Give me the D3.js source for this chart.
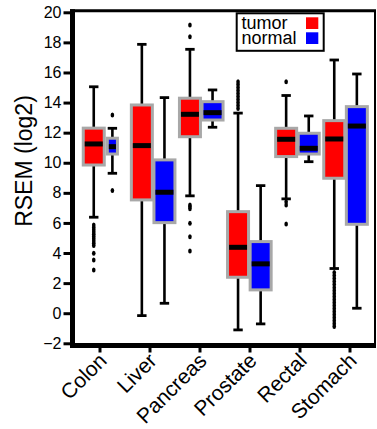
<!DOCTYPE html>
<html><head><meta charset="utf-8">
<script src="https://cdn.jsdelivr.net/npm/d3@7"></script>
<style>html,body{margin:0;padding:0;background:#fff;}svg{display:block;font-family:"Liberation Sans",Arial,sans-serif;}</style>
</head><body>
<svg id="c" width="377" height="429"></svg>
<script>
const categories = ["Colon","Liver","Pancreas","Prostate","Rectal","Stomach"];
const seriesNames = ["tumor","normal"];
const seriesColors = ["#ff0000","#0000ff"];
// [whisker low, q1, median, q3, whisker high]
const tumorStats = [
  [6.38, 9.85, 11.25, 12.3, 15.05],
  [-0.16, 7.53, 11.14, 13.84, 17.87],
  [7.8, 11.73, 13.22, 14.29, 17.54],
  [-1.11, 2.39, 4.38, 6.75, 13.3],
  [7.6, 10.41, 11.56, 12.29, 14.47],
  [2.97, 8.97, 11.58, 12.8, 16.83]
];
const normalStats = [
  [9.3, 10.58, 11.07, 11.63, 12.29],
  [0.66, 6.02, 8.04, 10.19, 14.33],
  [12.36, 12.84, 13.33, 14.06, 14.84],
  [-0.71, 1.55, 3.28, 4.76, 8.48],
  [10.07, 10.58, 10.96, 11.96, 13.11],
  [0.33, 5.91, 12.44, 13.73, 15.9]
];
const tumorOutliers = [
  [5.87,5.7,5.55,5.4,5.25,5.1,4.95,4.8,4.65,4.5,3.99,3.54,2.88],
  [],
  [19.16,18.38,7.2,7.08,6.95,5.98,5.09,4.14],
  [15.39,15.2,15.0,14.8,14.6,14.4,14.2,14.0,13.8,13.6],
  [15.39,7.4,7.2,5.93],
  [2.7,2.5,2.3,2.1,1.9,1.7,1.5,1.3,1.1,0.9,0.7,0.5,0.3,0.1,-0.1,-0.3,-0.5,-0.7,-0.89]
];
const normalOutliers = [
  [13.18, 8.15],
  [], [], [], [], []
];
// relative box widths (sample-size scaled)
const tumorWidth = [1,1,1,1,1,1];
const normalWidth = [0.48,1,1,1,1,1];
const yTicks = [-2,0,2,4,6,8,10,12,14,16,18,20];

const svg = d3.select("#c");
const L = 75, R = 375, T = 12.3, B = 343.3;
const x = d3.scaleBand().domain(categories).range([L, R]);          // tick positions
const xBox = d3.scaleBand().domain(categories).range([81, 369.6]);  // box pair positions
const y = d3.scaleLinear().domain([-2, 20]).range([B, T]);

const groups = [
  {stats: tumorStats, out: tumorOutliers, w: tumorWidth, color: seriesColors[0], off: -11.3},
  {stats: normalStats, out: normalOutliers, w: normalWidth, color: seriesColors[1], off: 11.3}
];
const boxW = 21;

groups.forEach(g => {
  categories.forEach((c, i) => {
    const s = g.stats[i];
    const w = boxW * g.w[i];
    const pc = xBox(c) + xBox.bandwidth()/2;
    let cx = pc + g.off;
    if (g.w[i] < 1) cx = pc + g.off - boxW/2 + w/2 + 1.5;
    const gg = svg.append("g");
    gg.append("line").attr("x1", cx).attr("x2", cx).attr("y1", y(s[0])).attr("y2", y(s[1]))
      .attr("stroke", "#000").attr("stroke-width", 2.6);
    gg.append("line").attr("x1", cx).attr("x2", cx).attr("y1", y(s[3])).attr("y2", y(s[4]))
      .attr("stroke", "#000").attr("stroke-width", 2.6);
    [s[0], s[4]].forEach(v => {
      gg.append("line").attr("x1", cx - 4.7).attr("x2", cx + 4.7).attr("y1", y(v)).attr("y2", y(v))
        .attr("stroke", "#000").attr("stroke-width", 2.8);
    });
    g.out[i].forEach(v => {
      gg.append("ellipse").attr("cx", cx).attr("cy", y(v)).attr("rx", 1.8).attr("ry", 2.5).attr("fill", "#000");
    });
    gg.append("rect").attr("x", cx - w/2).attr("y", y(s[3])).attr("width", w).attr("height", y(s[1]) - y(s[3]))
      .attr("fill", g.color).attr("stroke", "#a8a8a8").attr("stroke-width", 3);
    gg.append("line").attr("x1", cx - w/2 + 1.5).attr("x2", cx + w/2 - 1.5).attr("y1", y(s[2])).attr("y2", y(s[2]))
      .attr("stroke", "#000").attr("stroke-width", 5);
  });
});

// frame
svg.append("line").attr("x1", 70).attr("x2", 376).attr("y1", 10.8).attr("y2", 10.8).attr("stroke", "#000").attr("stroke-width", 3);
svg.append("line").attr("x1", 375).attr("x2", 375).attr("y1", 10).attr("y2", 346).attr("stroke", "#000").attr("stroke-width", 2);

// y axis
const yAxis = svg.append("g").attr("transform", `translate(${72.5},0)`)
  .call(d3.axisLeft(y).tickValues(yTicks).tickSize(9).tickPadding(2).tickFormat(d3.format("d")));
yAxis.select(".domain").attr("stroke-width", 5).attr("d", `M0,${9.3}V${348}`);
yAxis.selectAll(".tick line").attr("stroke-width", 3);
yAxis.selectAll(".tick text").attr("font-size", 16).attr("fill", "#000")
  .attr("font-family", "Liberation Sans, Arial, sans-serif");

// x axis
const xAxis = svg.append("g").attr("transform", `translate(0,${345.5})`)
  .call(d3.axisBottom(x).tickSize(7).tickFormat(""));
xAxis.select(".domain").attr("stroke-width", 5).attr("d", `M70,0H376`);
xAxis.selectAll(".tick line").attr("stroke-width", 3);

// x labels
categories.forEach(c => {
  const cx = x(c) + x.bandwidth()/2;
  svg.append("text").attr("transform", `translate(${cx + 8},${362}) rotate(-45)`)
    .attr("text-anchor", "end").attr("font-size", 21).attr("fill", "#000").text(c);
});

// y title
svg.append("text").attr("transform", `translate(32,161) rotate(-90)`)
  .attr("text-anchor", "middle").attr("font-size", 23).attr("fill", "#000").text("RSEM (log2)");

// legend
const lg = svg.append("g");
lg.append("rect").attr("x", 236.7).attr("y", 13.3).attr("width", 87).attr("height", 37.5)
  .attr("fill", "#fff").attr("stroke", "#000").attr("stroke-width", 2);
seriesNames.forEach((n, i) => {
  lg.append("text").attr("x", 241.5).attr("y", 29 + i * 15.3).attr("font-size", 18).attr("fill", "#000").text(n);
  lg.append("rect").attr("x", 306).attr("y", 17.3 + i * 15).attr("width", 12.3).attr("height", 11.7).attr("fill", seriesColors[i]);
});
</script>
</body></html>
